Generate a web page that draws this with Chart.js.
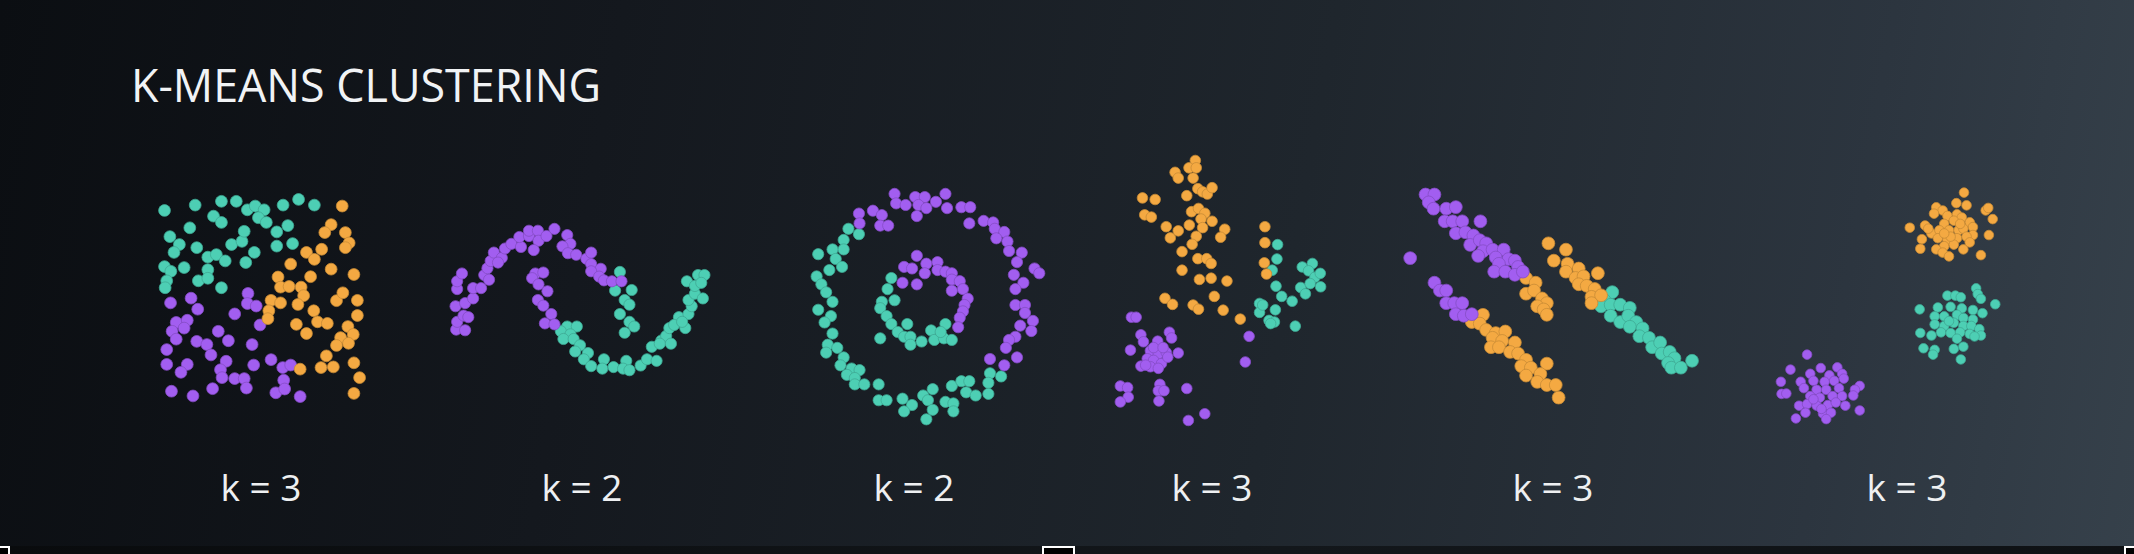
<!DOCTYPE html>
<html>
<head>
<meta charset="utf-8">
<script src="https://cdn.jsdelivr.net/npm/chart.js@4/dist/chart.umd.min.js"></script>
<style>
  html, body { margin:0; padding:0; }
  body {
    width:2134px; height:554px; overflow:hidden; position:relative;
    background: linear-gradient(100deg, #0b0e12 0%, #14181e 28%, #1f262d 60%, #2c353f 85%, #36414b 100%);
    font-family: "Open Sans", "Noto Sans", sans-serif;
  }
  #title { position:absolute; left:131px; top:55px; color:#f1f3f5; font-size:44.8px; font-weight:400; letter-spacing:0px; white-space:nowrap; line-height:60px; }
  .lbl { position:absolute; top:462px; width:200px; margin-left:-100px; text-align:center; color:#eef0f2; font-size:37px; font-weight:400; line-height:50px; white-space:pre; }
  .panel { position:absolute; }
  #strip { position:absolute; left:0; top:546px; width:2134px; height:8px; background:linear-gradient(90deg,#090b0d,#13171b 60%,#0e1114); }
  .hnd { position:absolute; top:546px; height:8px; box-sizing:border-box; border:2px solid #ffffff; border-bottom:none; background:#000; }
</style>
</head>
<body>
<div id="title">K-MEANS CLUSTERING</div>
<div id="strip"></div>
<div class="hnd" style="left:-2px;width:12px;"></div>
<div class="hnd" style="left:1042px;width:33px;"></div>
<div class="hnd" style="left:2124px;width:14px;"></div>
<script>
// ---- labels ----
const kLabels = ["k = 3", "k = 2", "k = 2", "k = 3", "k = 3", "k = 3"];
const labelCenters = [261, 582, 914, 1212, 1553, 1907];

// ---- colours ----
const TEAL = "#4dcfb4", ORANGE = "#f4a942", PURPLE = "#a25ef0";

// ---- Panel 1: uniform square ----
const p1Teal = [[88,107],[185,90],[268,78],[315,78],[350,105],[375,93],[403,105],[463,90],[512,72],[562,90],[243,125],[268,145],[385,130],[410,145],[168,162],[443,175],[478,155],[105,190],[135,215],[118,240],[190,225],[300,215],[333,205],[340,173],[443,220],[493,212],[225,255],[252,247],[280,267],[372,240],[345,272],[88,285],[108,300],[150,288],[225,295],[195,330],[225,322],[95,330],[90,352],[268,352]];
const p1Orange = [[650,93],[615,152],[595,177],[660,177],[672,210],[660,225],[537,240],[562,262],[585,230],[487,277],[615,293],[687,310],[550,317],[447,318],[455,350],[482,348],[520,350],[528,377],[425,392],[455,400],[510,405],[632,393],[652,368],[698,392],[418,425],[415,450],[560,425],[572,460],[603,465],[698,440],[505,468],[537,497],[668,475],[685,500],[645,510],[632,535],[670,528],[600,568],[583,605],[622,603],[517,610],[687,590],[705,637],[687,687]];
const p1Purple = [[107,400],[172,385],[193,420],[352,370],[350,402],[378,410],[310,435],[125,462],[160,455],[112,490],[150,480],[125,515],[258,490],[290,520],[390,470],[190,522],[222,532],[95,548],[365,532],[235,565],[95,595],[160,595],[140,620],[283,585],[265,612],[270,637],[370,597],[425,580],[462,605],[487,597],[310,640],[340,640],[347,670],[465,645],[110,680],[178,695],[240,672],[440,685],[468,673],[517,697]];

// ---- Panel 2: two moons ----
const p2Purple = [[62,395],[90,397],[65,370],[85,350],[100,355],[60,320],[90,310],[65,265],[65,240],[80,215],[115,295],[115,262],[140,262],[150,220],[165,235],[160,198],[170,175],[180,148],[205,165],[193,180],[215,135],[235,120],[265,130],[260,98],[290,95],[290,78],[318,78],[320,110],[345,95],[370,72],[305,140],[410,92],[420,120],[395,128],[412,150],[438,155],[470,168],[485,148],[485,185],[515,200],[485,208],[510,225],[525,237],[550,240],[580,240],[310,215],[335,212],[300,230],[320,250],[348,272],[318,300],[335,318],[360,345],[340,375],[370,378]];
const p2Teal = [[575,210],[560,270],[612,268],[590,300],[605,315],[575,345],[605,370],[620,385],[590,405],[410,385],[440,385],[390,400],[420,410],[398,425],[430,425],[450,445],[435,465],[475,470],[462,490],[485,512],[525,490],[520,520],[555,515],[595,495],[585,520],[605,525],[640,510],[660,490],[690,495],[675,450],[705,430],[720,415],[730,390],[760,355],[790,345],[745,380],[780,390],[800,320],[790,300],[810,280],[835,295],[785,240],[810,255],[820,220],[840,220],[830,245],[700,440],[735,440],[770,370]];

// ---- Panel 3: concentric circles ----
const p3Purple = [[340,55],[345,85],[375,90],[405,65],[435,65],[415,90],[440,100],[410,125],[470,80],[500,55],[505,100],[550,97],[578,97],[575,148],[228,117],[230,148],[272,108],[300,122],[295,155],[320,155],[620,140],[650,145],[655,165],[685,175],[660,195],[695,205],[700,235],[740,240],[725,270],[780,290],[795,305],[715,310],[745,335],[720,355],[720,405],[750,405],[750,430],[775,455],[735,470],[770,487],[720,505],[700,515],[690,540],[725,570],[640,575],[685,595],
  [410,250],[370,285],[395,290],[440,275],[475,270],[475,295],[435,305],[500,300],[520,305],[520,325],[545,330],[365,335],[410,340],[555,355],[520,360],[570,385],[560,405],[555,425],[545,445],[540,475]];
const p3Teal = [[195,165],[228,182],[180,200],[145,230],[180,230],[100,245],[155,260],[175,285],[135,295],[95,315],[110,340],[125,365],[145,395],[100,420],[140,440],[120,460],[145,495],[130,530],[160,540],[125,555],[180,570],[170,595],[205,605],[230,610],[190,625],[215,635],[215,655],[245,655],[290,655],[290,705],[315,705],[365,700],[395,720],[370,740],[430,690],[460,670],[445,705],[460,735],[440,765],[500,710],[525,715],[525,740],[520,660],[550,645],[575,645],[565,680],[595,690],[640,620],[635,650],[675,630],[635,685],
  [330,320],[318,355],[340,390],[300,395],[295,415],[315,440],[330,465],[350,490],[370,505],[380,465],[390,505],[390,530],[425,520],[455,485],[465,515],[495,510],[500,465],[520,515],[295,510],[485,490]];

// ---- Panel 4: anisotropic / varied blobs ----
const p4Orange = [[282,45],[262,68],[285,68],[218,82],[228,100],[275,100],[115,162],[155,167],[255,155],[290,133],[305,143],[320,150],[335,130],[122,215],[143,222],[270,205],[292,195],[312,210],[300,228],[335,235],[190,252],[263,247],[305,255],[228,265],[203,287],[285,282],[272,307],[375,260],[362,285],[240,330],[290,352],[318,352],[332,367],[240,388],[295,417],[332,413],[382,422],[186,476],[210,495],[275,497],[292,510],[342,470],[370,513],[424,541],[502,252],[502,302],[500,365],[507,400]];
const p4Teal = [[542,308],[540,353],[525,388],[537,438],[555,470],[588,485],[620,378],[652,367],[640,390],[660,410],[677,398],[678,440],[615,442],[630,462],[645,430],[485,492],[485,520],[495,497],[535,512],[515,545],[532,550],[598,563],[520,555]];
const p4Purple = [[80,535],[95,535],[110,590],[118,612],[200,582],[207,600],[77,638],[163,610],[228,647],[140,640],[165,650],[190,645],[130,665],[150,670],[175,680],[110,688],[140,690],[165,695],[195,660],[150,630],[180,630],[125,685],[45,750],[68,755],[70,785],[45,800],[170,745],[165,765],[183,765],[167,797],[255,758],[452,595],[440,675],[312,837],[260,858]];

// ---- Panel 5: three diagonal bands ----
const p5Purple = [[120,55],[148,55],[130,80],[145,100],[185,100],[215,95],[180,140],[205,140],[235,140],[292,140],[215,178],[245,175],[270,185],[260,215],[290,200],[310,210],[300,235],[330,230],[285,250],[365,230],[340,255],[380,260],[350,275],[400,265],[410,285],[335,300],[370,300],[400,310],[425,300],[72,257],[148,335],[165,360],[185,360],[185,400],[210,400],[235,400],[215,435],[240,440],[265,435]];
const p5Orange = [[435,320],[465,335],[435,370],[460,360],[485,385],[500,400],[470,410],[490,420],[500,437],[300,437],[265,460],[290,465],[310,485],[340,495],[370,490],[330,510],[360,520],[325,540],[350,540],[400,525],[385,555],[410,560],[435,580],[420,600],[450,605],[500,592],[435,630],[480,625],[470,650],[500,660],[528,660],[537,700],[505,210],[560,230],[522,265],[565,275],[600,290],[560,300],[590,320],[615,315],[660,305],[600,340],[625,345],[650,355],[640,380],[670,375],[640,400]];
const p5Teal = [[705,365],[680,390],[670,410],[700,405],[730,405],[700,440],[760,415],[730,460],[755,440],[780,460],[760,475],[800,480],[790,505],[820,510],[830,540],[855,525],[860,560],[885,555],[900,575],[880,590],[890,605],[920,605],[955,583]];

// ---- Panel 6: three gaussian blobs ----
const p6Orange = [[622,22],[598,55],[630,62],[535,68],[555,78],[690,78],[698,70],[712,105],[528,88],[570,95],[600,90],[615,100],[590,110],[560,120],[640,115],[650,130],[500,125],[452,132],[520,150],[545,140],[575,140],[605,140],[620,135],[650,155],[700,155],[490,168],[540,165],[570,170],[600,165],[630,160],[560,190],[590,185],[640,178],[485,198],[535,200],[555,210],[575,222],[620,200],[675,218],[510,135],[580,160],[610,120],[560,150]];
const p6Teal = [[660,322],[665,340],[675,355],[570,345],[595,345],[612,350],[720,372],[540,382],[580,380],[615,385],[650,390],[483,388],[680,400],[530,410],[560,410],[600,405],[620,415],[650,420],[530,435],[560,440],[590,430],[620,440],[645,440],[670,450],[550,460],[580,462],[610,460],[640,465],[675,470],[655,473],[485,462],[520,470],[600,480],[495,510],[530,515],[525,530],[590,512],[620,505],[612,545],[575,425]];
const p6Purple = [[130,530],[78,577],[225,570],[173,572],[140,590],[200,595],[240,590],[245,605],[48,615],[110,615],[150,612],[185,615],[215,612],[295,628],[280,640],[120,635],[160,640],[190,640],[230,635],[50,653],[65,652],[140,660],[170,665],[210,660],[240,660],[275,658],[105,690],[130,685],[160,690],[195,688],[220,680],[250,690],[295,705],[125,712],[180,715],[205,712],[95,730],[190,732],[150,670],[175,700]];

// ---- panel setup (canvas box in page px; scale extents in data units) ----
const panels = [
  { box:[130,170,260,250], ext:[780,750], r:5.9, sets:[[p1Teal,TEAL],[p1Orange,ORANGE],[p1Purple,PURPLE]] },
  { box:[430,200,300,200], ext:[900,600], r:5.6, sets:[[p2Purple,PURPLE],[p2Teal,TEAL]] },
  { box:[780,170,280,270], ext:[840,810], r:5.6, sets:[[p3Purple,PURPLE],[p3Teal,TEAL]] },
  { box:[1100,140,240,300], ext:[720,900], r:5.3, sets:[[p4Orange,ORANGE],[p4Teal,TEAL],[p4Purple,PURPLE]] },
  { box:[1380,170,340,260], ext:[1020,780], r:6.4, sets:[[p5Purple,PURPLE],[p5Orange,ORANGE],[p5Teal,TEAL]] },
  { box:[1760,180,260,260], ext:[780,780], r:4.8, sets:[[p6Orange,ORANGE],[p6Teal,TEAL],[p6Purple,PURPLE]] }
];

function darker(hex){
  const n=parseInt(hex.slice(1),16);
  const r=Math.round(((n>>16)&255)*0.82), g=Math.round(((n>>8)&255)*0.82), b=Math.round((n&255)*0.82);
  return `rgb(${r},${g},${b})`;
}

panels.forEach((p,i)=>{
  const div=document.createElement('div');
  div.className='panel';
  div.style.left=p.box[0]+'px'; div.style.top=p.box[1]+'px';
  div.style.width=p.box[2]+'px'; div.style.height=p.box[3]+'px';
  const cv=document.createElement('canvas');
  cv.width=p.box[2]; cv.height=p.box[3];
  div.appendChild(cv); document.body.appendChild(div);
  new Chart(cv,{
    type:'scatter',
    data:{ datasets: p.sets.map(([pts,col])=>({
      data: pts.map(([x,y])=>({x,y})),
      backgroundColor: col, borderColor: darker(col), borderWidth: 0.8,
      pointRadius: p.r, pointHoverRadius: p.r, clip: false
    }))},
    options:{
      responsive:false, animation:false, devicePixelRatio:1,
      layout:{padding:0},
      plugins:{legend:{display:false}, tooltip:{enabled:false}, title:{display:false}},
      scales:{
        x:{type:'linear', display:false, min:0, max:p.ext[0]},
        y:{type:'linear', display:false, min:0, max:p.ext[1], reverse:true}
      }
    }
  });
});

kLabels.forEach((t,i)=>{
  const d=document.createElement('div');
  d.className='lbl'; d.textContent=t; d.style.left=labelCenters[i]+'px';
  document.body.appendChild(d);
});
</script>
</body>
</html>
